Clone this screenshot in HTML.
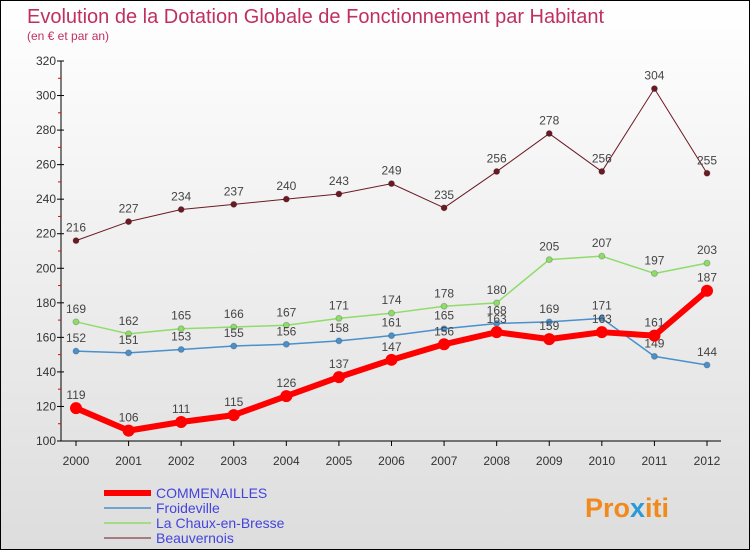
<!DOCTYPE html>
<html><head><meta charset="utf-8"><style>
body{margin:0}
#c{width:750px;height:550px;position:relative;box-sizing:border-box;border:1px solid #000;background:linear-gradient(#fff,#ddd);font-family:"Liberation Sans",sans-serif;overflow:hidden}
</style></head><body>
<div id="c">
<svg id="s" width="750" height="550" style="position:absolute;left:0;top:0">
<text x="26" y="22" font-size="20" fill="#c0305f">Evolution de la Dotation Globale de Fonctionnement par Habitant</text>
<text x="26" y="39" font-size="12" fill="#c0305f">(en € et par an)</text>
<g id="ax"></g><g id="ser"></g><g id="leg"></g>
<text x="584" y="516" font-size="27" font-weight="bold" fill="#f08a1c">Pro<tspan fill="#2a9ad6">x</tspan>iti</text>
</svg>
</div>
<script>
const years=[2000,2001,2002,2003,2004,2005,2006,2007,2008,2009,2010,2011,2012];
const yTicks=[100,120,140,160,180,200,220,240,260,280,300,320];
const commenailles=[119,106,111,115,126,137,147,156,163,159,163,161,187];
const froideville=[152,151,153,155,156,158,161,165,168,169,171,149,144];
const chaux=[169,162,165,166,167,171,174,178,180,205,207,197,203];
const beauvernois=[216,227,234,237,240,243,249,235,256,278,256,304,255];
const NS="http://www.w3.org/2000/svg";
const X=i=>75+i*(706-75)/12;
const Y=v=>440-(v-100)*380/220;
function mk(t,a,p){const e=document.createElementNS(NS,t);for(const k in a)e.setAttribute(k,a[k]);p.appendChild(e);return e;}
const ax=document.getElementById('ax');
let l=mk('line',{x1:60,y1:60,x2:60,y2:440,stroke:'#000'},ax);


l=mk('line',{x1:60,y1:440,x2:720,y2:440,stroke:'#000'},ax);


for(let v=110;v<320;v+=20){mk('line',{x1:57,y1:Y(v),x2:60,y2:Y(v),stroke:'#e00'},ax);}
yTicks.forEach(v=>{mk('line',{x1:56,y1:Y(v),x2:63,y2:Y(v),stroke:'#000'},ax);
const t=mk('text',{x:55,y:Y(v)+4,'font-size':12,'text-anchor':'end',fill:'#333'},ax);t.textContent=v;

});
years.forEach((y,i)=>{mk('line',{x1:X(i),y1:440,x2:X(i),y2:445,stroke:'#000'},ax);
const t=mk('text',{x:X(i),y:464,'font-size':12,'text-anchor':'middle',fill:'#333'},ax);t.textContent=y;

});
const series=[
{n:'Beauvernois',d:beauvernois,c:'#6b1a24',w:1,r:3,id:'beauvernois'},
{n:'La Chaux-en-Bresse',d:chaux,c:'#8fdc6a',w:1.5,r:3,id:'la-chaux-en-bresse'},
{n:'Froideville',d:froideville,c:'#4a90cc',w:1.5,r:3,id:'froideville'},
{n:'COMMENAILLES',d:commenailles,c:'#f00',w:6,r:6,id:'commenailles'}];
const sg=document.getElementById('ser');
series.forEach(s=>{const g=mk('g',{},sg);


mk('polyline',{points:s.d.map((v,i)=>X(i)+','+Y(v)).join(' '),fill:'none',stroke:s.c,'stroke-width':s.w,'stroke-linejoin':'round'},g);
s.d.forEach((v,i)=>{const p=mk('circle',{cx:X(i),cy:Y(v),r:s.r,fill:s.c,stroke:s.r>3?'none':'#0003'},g);


const t=mk('text',{x:X(i),y:Y(v)-9,'font-size':12,'text-anchor':'middle',fill:'#444'},g);t.textContent=v;

});});
const lg=document.getElementById('leg');
[series[3],series[2],series[1],series[0]].forEach((s,k)=>{const y=492+k*15;
const g=mk('g',{},lg);


mk('line',{x1:103,y1:y,x2:150,y2:y,stroke:s.c,'stroke-width':s.w},g);
const t=mk('text',{x:155,y:y+5,'font-size':14,fill:'#4444dd'},g);t.textContent=s.n;});
</script>
</body></html>
